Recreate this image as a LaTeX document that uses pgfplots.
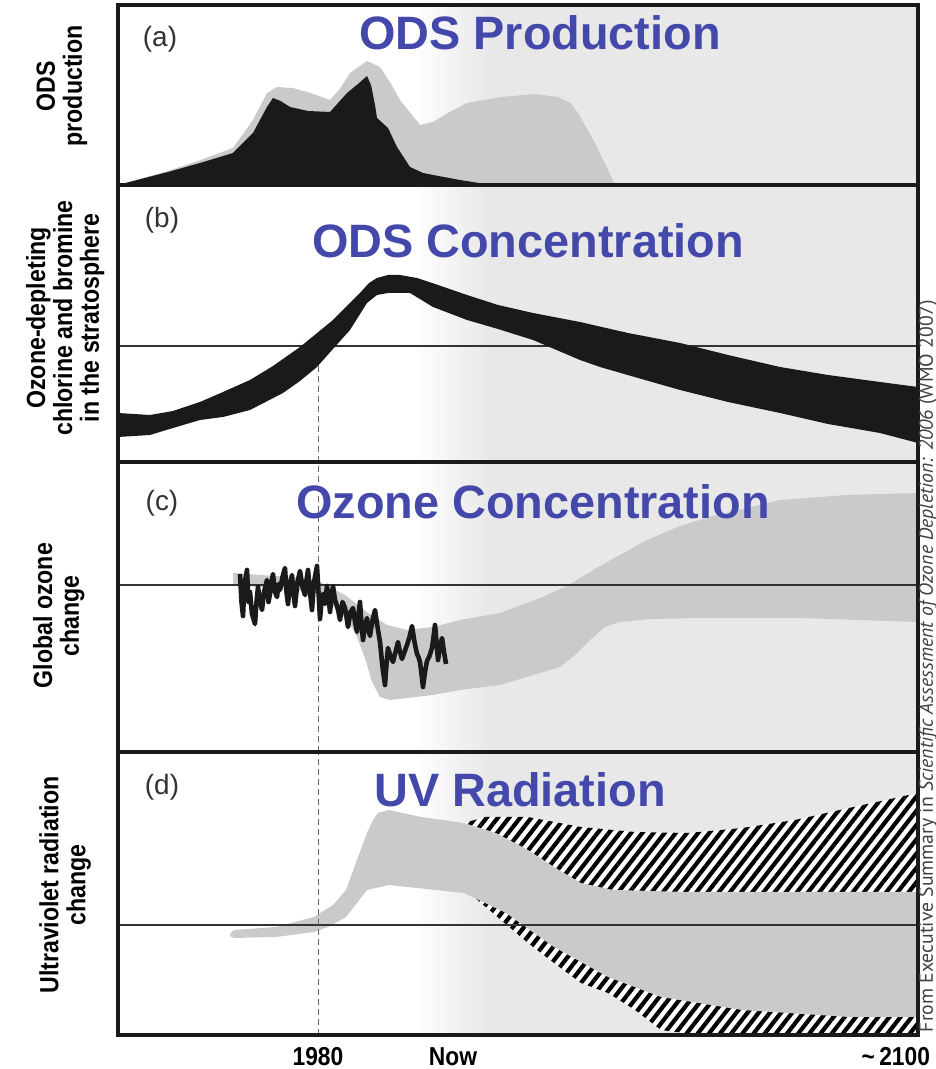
\documentclass[border=0pt]{standalone}
\usepackage{fontspec}
\setmainfont{Liberation Sans}
\newfontfamily\labfont[FakeStretch=0.88]{Liberation Sans}
\newfontfamily\creditfont{PT Sans}
\usepackage{pgfplots}
\pgfplotsset{compat=1.18}
\usetikzlibrary{patterns.meta}
\definecolor{ink}{HTML}{1A1A1A}
\definecolor{band}{HTML}{CACACA}
\definecolor{bg}{HTML}{E8E8E8}
\definecolor{odsblue}{HTML}{4348AA}

% white on the left, light grey from "now" on
\newcommand\bgfill{%
  \fill[white] (rel axis cs:0,0) rectangle (rel axis cs:0.37,1);
  \shade[left color=white, right color=bg] (rel axis cs:0.368,0) rectangle (rel axis cs:0.464,1);
  \fill[bg] (rel axis cs:0.462,0) rectangle (rel axis cs:1,1);}

\tikzset{
  ttl/.style={anchor=base, text=odsblue, font=\bfseries\fontsize{23.5}{28}\selectfont},
  lett/.style={anchor=base, text=black!80, font=\fontsize{14}{16}\selectfont},
  refline/.style={black!80, line width=0.7bp},
  vdash/.style={black!60, line width=0.5bp, dash pattern=on 3bp off 2bp},
}

\begin{document}
\begin{tikzpicture}
\useasboundingbox (0,0) rectangle (468bp,534.5bp);
\pgfplotsset{
  panel/.style={scale only axis, width=400bp, xmin=1940, xmax=2100, ymin=0,
    axis on top, xtick=\empty, ytick=\empty, clip mode=individual,
    axis line style={line width=1.7bp, ink},
    ylabel style={anchor=center, align=center, font=\labfont\bfseries\fontsize{13.2}{13.5}\selectfont}},
}

% (a) ODS production
\begin{axis}[panel, height=90bp, ymax=180, at={(59bp,442bp)}, anchor=south west,
  ylabel={ODS\\production}, ylabel style={at={(axis description cs:-0.07,0.55)}}]
\bgfill
\addplot[fill=band, draw=none] coordinates {(1940,0) (1950,14) (1956,24) (1963,37)
  (1967,65) (1969.8,92) (1971.8,98) (1975,97) (1978.5,92) (1982.4,85) (1984.5,97)
  (1986.4,112) (1989.8,124) (1992.4,118) (1994.5,102) (1996.4,85) (2000.4,60)
  (2003,63) (2006,72) (2009.8,82) (2016.6,88) (2023.4,91) (2028,88) (2030.5,82)
  (2032,72) (2035.4,42) (2037.5,20) (2039.4,0)} \closedcycle;
\addplot[fill=ink, draw=none] coordinates {(1940,0) (1950,13) (1956.4,22) (1963,32)
  (1967,52) (1969.8,78) (1971,87) (1972.5,84) (1974.4,78) (1978,74) (1982.4,73)
  (1985.8,92) (1988,101) (1989.8,109) (1990.6,100) (1991.4,80) (1991.8,67) (1994,57)
  (1995.8,38) (1998.4,18) (2001,12) (2003,10) (2008.4,5) (2014.6,0)} \closedcycle;
\node[lett] at (axis cs:1948.4,138) {(a)};
\node[ttl] at (axis cs:2024.4,135) {ODS Production};
\end{axis}

% (b) chlorine and bromine in the stratosphere
\begin{axis}[panel, height=138.5bp, ymax=277, at={(59bp,303.5bp)}, anchor=south west,
  ylabel={Ozone-depleting\\chlorine and bromine\\in the stratosphere},
  ylabel style={at={(axis description cs:-0.066,0.52)}}]
\bgfill
\addplot[refline] coordinates {(1940,116) (2100,116)};
\addplot[vdash] coordinates {(1980,0) (1980,102)};
\addplot[fill=ink, draw=none] coordinates {(1940,49) (1946.4,47) (1951,51)
  (1956.4,60) (1961,70) (1966.4,82) (1971,96) (1976.4,115) (1983,142) (1988.4,169)
  (1990.2,179) (1991.8,184) (1994,187) (1996.4,187) (1999.8,184) (2004,177)
  (2009.8,167) (2016,157) (2023,149) (2032.4,140) (2042,129) (2052.4,119)
  (2062,107) (2072.4,95) (2082,87) (2092.4,80) (2100,75)
  (2100,19) (2092.4,29) (2082,38) (2072.4,49) (2062,60) (2052.4,72) (2044,84)
  (2036.4,95) (2032.4,102) (2023,122) (2016,133) (2009.8,142) (2003,155)
  (1998.4,169) (1994,169) (1991.8,167) (1989.8,159) (1986.4,132) (1983,113)
  (1979.8,95) (1976.4,81) (1973,69) (1966.4,52) (1961,45) (1956.4,42) (1951,34)
  (1946.4,27) (1940,25)};
\node[lett] at (axis cs:1948.8,234) {(b)};
\node[ttl] at (axis cs:2022,204) {ODS Concentration};
\end{axis}

% (c) global ozone change
\begin{axis}[panel, height=145bp, ymax=290, at={(59bp,158.5bp)}, anchor=south west,
  ylabel={Global ozone\\change}, ylabel style={at={(axis description cs:-0.074,0.47)}}]
\bgfill
\addplot[fill=band, draw=none] coordinates {(1963,179) (1968.4,177) (1974.4,175)
  (1979.8,172) (1983,163) (1985.4,157) (1989.8,140) (1993.8,127) (1997.8,122)
  (2003,125) (2008.4,132) (2016.4,139) (2024.4,154) (2029.8,166) (2036.4,186)
  (2045.8,212) (2052.4,226) (2059,236) (2072.4,252) (2085.8,257) (2100,259)
  (2100,130) (2076.4,134) (2056.4,134) (2046.4,133) (2040.4,130) (2037.4,125)
  (2034.4,112) (2031.4,97) (2028.4,85) (2022.4,76) (2016.4,67) (2008.4,62)
  (2003,57) (1994.4,52) (1992.4,55) (1990.8,70) (1989.4,94) (1987.4,120)
  (1984.4,140) (1979.8,158) (1974.4,163) (1968.4,165) (1963,167)};
\addplot[refline] coordinates {(1940,167) (2100,167)};
\addplot[vdash] coordinates {(1980,0) (1980,290)};
\addplot[ink, line width=2.3bp, line join=round] coordinates {
  (1964.4,178) (1964.7,150) (1965,136) (1965.3,168) (1965.8,182) (1966.1,150)
  (1966.4,160) (1966.8,138) (1967.4,128) (1967.7,150) (1968,165) (1968.4,150)
  (1968.8,142) (1969.2,160) (1969.8,172) (1970.1,150) (1970.4,158) (1970.7,170)
  (1971,178) (1971.4,160) (1971.8,155) (1972.1,168) (1972.4,162) (1972.9,175)
  (1973.4,184) (1973.7,160) (1974,148) (1974.4,168) (1974.8,177) (1975.1,158)
  (1975.4,146) (1975.9,170) (1976.4,181) (1976.9,165) (1977.4,157) (1977.7,172)
  (1978,182) (1978.4,160) (1978.8,142) (1979.2,170) (1979.8,186) (1980.1,160)
  (1980.4,133) (1980.7,150) (1981,158) (1981.4,148) (1981.8,166) (1982.1,155)
  (1982.4,140) (1982.7,155) (1983,166) (1983.4,152) (1983.8,146) (1984.1,140)
  (1984.4,132) (1984.9,150) (1985.4,144) (1985.7,135) (1986,125) (1986.5,140)
  (1987,144) (1987.4,130) (1987.8,120) (1988.1,138) (1988.4,150) (1988.7,128)
  (1989,112) (1989.4,126) (1989.8,134) (1990.1,122) (1990.4,116) (1990.9,132)
  (1991.4,142) (1991.9,125) (1992.4,110) (1992.9,85) (1993.4,67) (1993.7,88)
  (1994,104) (1994.5,96) (1995,90) (1995.5,100) (1996,110) (1996.4,100)
  (1996.8,93) (1997.3,100) (1997.8,107) (1998.3,115) (1998.8,126) (1999.3,110)
  (1999.8,98) (2000.1,95) (2000.4,90) (2000.7,78) (2001,65) (2001.4,80)
  (2001.8,91) (2002.3,96) (2002.8,104) (2003.1,115) (2003.4,127) (2003.7,110)
  (2004,92) (2004.4,105) (2004.8,114) (2005.2,100) (2005.6,88)};
\node[lett] at (axis cs:1948.8,242) {(c)};
\node[ttl] at (axis cs:2023,234) {Ozone Concentration};
\end{axis}

% (d) UV radiation change
\begin{axis}[panel, height=141.5bp, ymax=283, at={(59bp,17bp)}, anchor=south west,
  ylabel={Ultraviolet radiation\\change}, ylabel style={at={(axis description cs:-0.066,0.53)}},
  xtick={1980,2007}, xticklabels={1980,Now}, major tick length=0pt,
  xticklabel style={anchor=base, yshift=-15bp, font=\labfont\bfseries\fontsize{13}{14}\selectfont}]
\bgfill
\addplot[draw=none, fill=white,
  postaction={pattern={Lines[angle=52, distance=4.4bp, line width=2.1bp]}}]
  coordinates {(2009.2,212) (2013.4,218) (2022,218) (2032.6,208) (2043.4,203)
  (2054,202) (2064.8,207) (2075.4,215) (2086.2,227) (2100,242)
  (2100,0) (2056.4,0) (2048.6,5) (2043.4,25) (2038,42) (2032.6,52) (2027.2,72)
  (2022,92) (2016.6,115) (2011.2,138) (2009.6,150)};
\addplot[fill=band, draw=none] coordinates {(1962.4,101) (1963.2,105) (1971.6,108)
  (1979.2,118) (1983,130) (1985.6,145) (1987.8,175) (1989.8,202) (1991,215) (1992,222)
  (1994.2,225) (2000.6,218) (2009.2,212) (2015.6,202) (2022,185) (2027.2,168)
  (2032.6,152) (2039,145) (2054,143) (2100,143)
  (2100,18) (2086.2,18) (2064.8,25) (2048.6,38) (2038,58) (2027.2,88)
  (2017.6,122) (2009.2,142) (1994.2,150) (1989.8,145) (1985.6,118) (1982,108)
  (1979.2,103) (1971.6,98) (1963.2,97) (1962.4,99)};
\addplot[refline] coordinates {(1940,110) (2100,110)};
\addplot[vdash] coordinates {(1980,0) (1980,283)};
\node[lett] at (axis cs:1948.8,240) {(d)};
\node[ttl] at (axis cs:2020.4,228) {UV Radiation};
\node[anchor=base east, xshift=9.5bp, yshift=-15bp, font=\labfont\bfseries\fontsize{13}{14}\selectfont]
  at (axis cs:2100,0) {\textasciitilde\,2100};
\end{axis}

\node[rotate=90, font=\creditfont\fontsize{9.9}{10}\selectfont, text=black!75]
  at (464bp,201.5bp) {From Executive Summary in \textit{Scientific Assessment of Ozone Depletion: 2006} (WMO 2007)};
\end{tikzpicture}
\end{document}
